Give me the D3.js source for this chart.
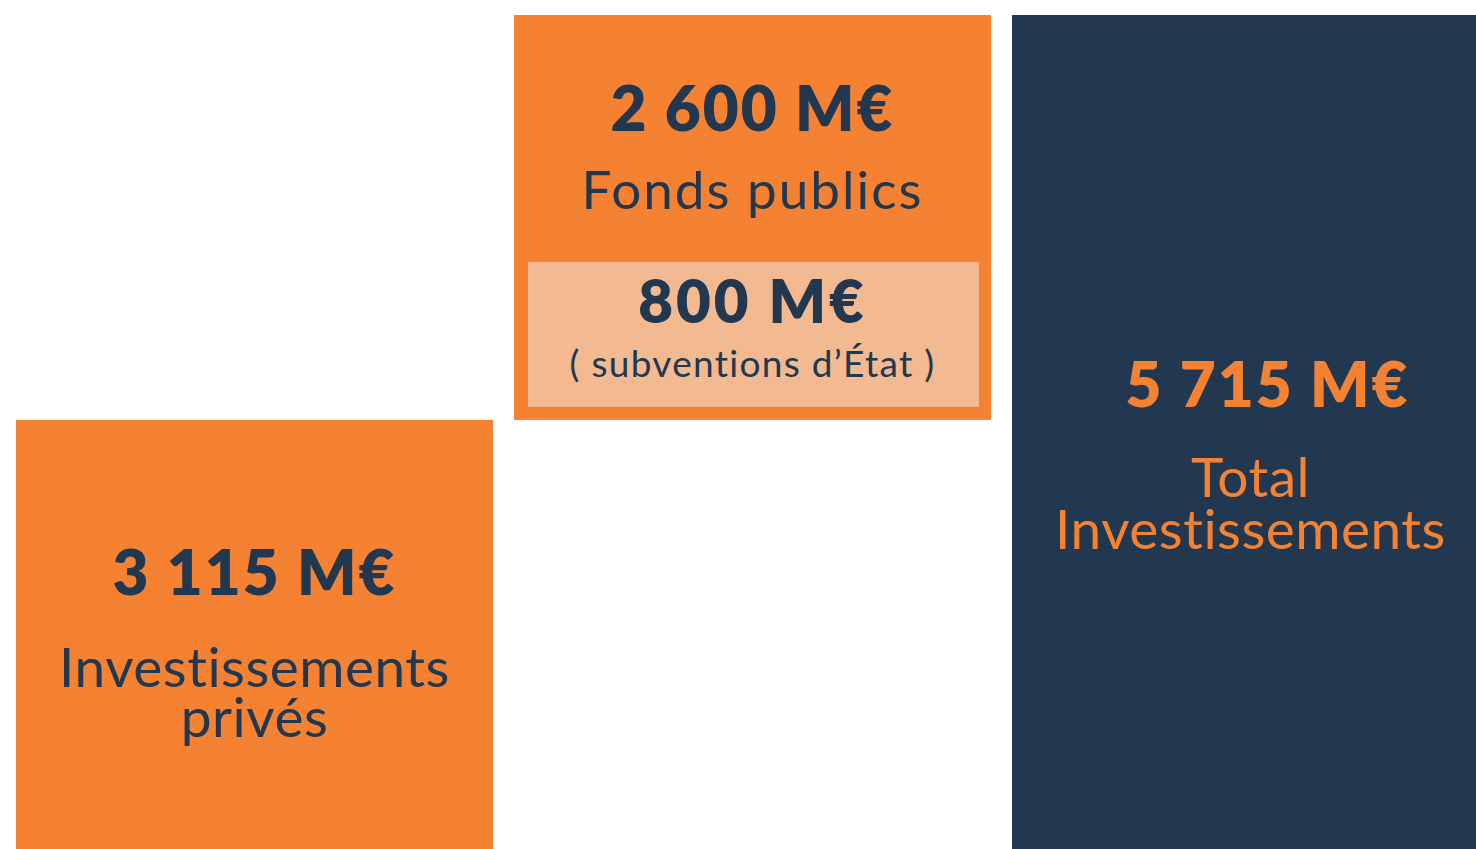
<!DOCTYPE html>
<html>
<head>
<meta charset="utf-8">
<script src="https://cdn.jsdelivr.net/npm/d3@7"></script>
<style>
  body { margin: 0; background: #fff; }
  svg { display: block; }
  text { font-family: Lato, "Open Sans", sans-serif; text-anchor: middle; }
  .num { font-weight: 800; letter-spacing: 2px; }
  .lbl { font-weight: 400; }
</style>
</head>
<body>
<div id="chart"></div>
<script>
  // waterfall: private + public = total
  var categories = ['prives', 'publics', 'total'];
  var starts = [0, 3115, 0];
  var values = [3115, 2600, 5715];
  var valueLabels = ['3 115 M€', '2 600 M€', '5 715 M€'];
  var nameLines = [['Investissements', 'privés'], ['Fonds publics'], ['Total', 'Investissements']];
  var subValue = 800;
  var subLabels = ['800 M€', '( subventions d\u2019État )'];

  var orange = '#F58233', navy = '#213850', light = '#F3B990';
  var fills = [orange, orange, navy];
  var inks = [navy, navy, orange];

  var W = 1476, H = 849;

  var svg = d3.select('#chart').append('svg')
      .attr('width', W)
      .attr('height', H);

  // chart runs past the right and bottom edge of the frame (cropped)
  var x = d3.scaleBand()
      .domain(categories)
      .range([16, 1489])
      .paddingInner(21 / 498)
      .paddingOuter(0);

  var y = d3.scaleLinear()
      .domain([0, d3.max(values)])
      .range([905, 15]);

  var bars = svg.selectAll('g.bar')
    .data(categories)
    .enter().append('g')
      .attr('class', 'bar');

  bars.append('rect')
      .attr('x', function (d) { return x(d); })
      .attr('y', function (d, i) { return y(starts[i] + values[i]); })
      .attr('width', x.bandwidth())
      .attr('height', function (d, i) { return y(starts[i]) - y(starts[i] + values[i]); })
      .attr('fill', function (d, i) { return fills[i]; });

  // label offsets from bar top: value baseline, first name line baseline, line step
  var layout = [
    { num: 175, name: 267, step: 50, dx: 0, size: 55, ls: 0.5 },
    { num: 116, name: 194, step: 50, dx: 0, size: 53, ls: 2 },
    { num: 392, name: 482, step: 52, dx: 17, size: 55, ls: 0.5 }
  ];

  bars.append('text')
      .attr('class', 'num')
      .attr('x', function (d, i) { return x(d) + x.bandwidth() / 2 + layout[i].dx; })
      .attr('y', function (d, i) { return y(starts[i] + values[i]) + layout[i].num; })
      .attr('fill', function (d, i) { return inks[i]; })
      .style('font-size', '62px')
      .text(function (d, i) { return valueLabels[i]; });

  bars.each(function (d, i) {
    var g = d3.select(this);
    var top = y(starts[i] + values[i]);
    nameLines[i].forEach(function (line, j) {
      g.append('text')
          .attr('class', 'lbl')
          .attr('x', x(d) + x.bandwidth() / 2)
          .attr('y', top + layout[i].name + j * layout[i].step)
          .attr('fill', inks[i])
          .style('font-size', layout[i].size + 'px')
          .style('letter-spacing', layout[i].ls + 'px')
          .text(line);
    });
  });

  // inset box for the state subsidies inside the public funds bar
  var pubX = x('publics'), pubBottom = y(starts[1]);
  var inset = 13, boxH = 145, boxBottom = pubBottom - 13;
  var box = svg.append('g').attr('class', 'sub');
  box.append('rect')
      .attr('x', pubX + inset + 1)
      .attr('y', boxBottom - boxH)
      .attr('width', x.bandwidth() - 2 * inset)
      .attr('height', boxH)
      .attr('fill', light);
  box.append('text')
      .attr('class', 'num')
      .attr('x', pubX + x.bandwidth() / 2)
      .attr('y', boxBottom - boxH + 61)
      .attr('fill', navy)
      .style('font-size', '60px')
      .style('letter-spacing', '3px')
      .text(subLabels[0]);
  box.append('text')
      .attr('class', 'lbl')
      .attr('x', pubX + x.bandwidth() / 2)
      .attr('y', boxBottom - boxH + 115)
      .attr('fill', navy)
      .style('font-size', '37px')
      .style('letter-spacing', '1.3px')
      .text(subLabels[1]);
</script>
</body>
</html>
